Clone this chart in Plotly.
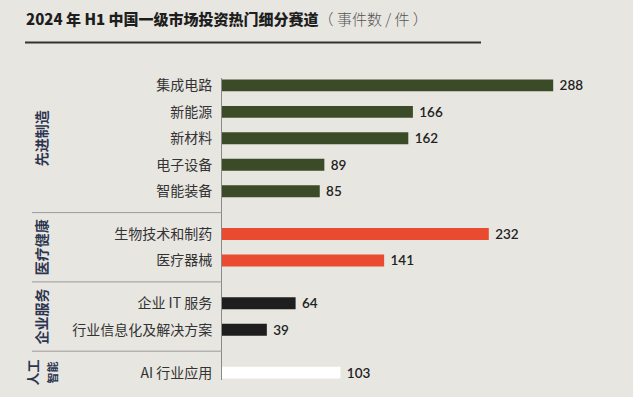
import plotly.graph_objects as go

# ---- data ----
groups = ["先进制造", "医疗健康", "企业服务", "人工智能"]
group_sizes = [5, 2, 2, 1]
categories = ["集成电路", "新能源", "新材料", "电子设备", "智能装备",
              "生物技术和制药", "医疗器械",
              "企业 IT 服务", "行业信息化及解决方案",
              "AI 行业应用"]
values = [288, 166, 162, 89, 85, 232, 141, 64, 39, 103]
group_colors = ["#3b4a27", "#ea4a30", "#1f1e1e", "#ffffff"]

# ---- layout helpers ----
GAP = 1.62
ypos, colors, seps, gcenters = [], [], [], []
cur = 0.0
for gi, n in enumerate(group_sizes):
    start = cur
    for k in range(n):
        ypos.append(cur)
        colors.append(group_colors[gi])
        cur += 1
    end = cur - 1
    gcenters.append((start + end) / 2)
    if gi < len(group_sizes) - 1:
        seps.append(end + GAP / 2)
        cur = end + GAP

W, H = 633, 397
L, R, T, B = 222, 0, 78, 17
pw, ph = W - L - R, H - T - B
XMAX = pw / 1.15

def px2paperx(px):
    return (px - L) / pw

def py2papery(py):
    return (H - B - py) / ph

FONT = "Noto Sans CJK SC"

fig = go.Figure()
fig.add_trace(go.Bar(
    x=values, y=ypos, orientation="h",
    marker=dict(color=colors, line=dict(width=0)),
    width=0.45,
    text=[f" {v}" for v in values], textposition="outside",
    constraintext="none",
    textfont=dict(family="Lato", size=13.5, color="#222222", weight=600),
    cliponaxis=False, hoverinfo="skip",
))

shapes = []
for s in seps:
    shapes.append(dict(type="line", xref="paper", yref="y",
                       x0=px2paperx(32), x1=0, y0=s, y1=s,
                       line=dict(color="#9a9a9a", width=1)))
shapes.append(dict(type="line", xref="paper", yref="paper",
                   x0=px2paperx(25), x1=px2paperx(481),
                   y0=py2papery(42.5), y1=py2papery(42.5),
                   line=dict(color="#333333", width=2)))

annotations = []
for gi, g in enumerate(groups):
    if group_sizes[gi] == 1:
        txt = "<span style='font-size:13px'>" + g[:2] + "</span><br><span style='font-size:11px'>" + g[2:] + "</span>"
    else:
        txt = g
    annotations.append(dict(
        xref="paper", yref="y", x=px2paperx(41), y=gcenters[gi],
        text="<b>" + txt + "</b>", textangle=-90, showarrow=False,
        font=dict(family=FONT, size=14, color="#2c3550"),
        xanchor="center", yanchor="middle",
    ))

fig.update_layout(
    width=W, height=H,
    margin=dict(l=L, r=R, t=T, b=B, autoexpand=False),
    paper_bgcolor="#e8e6e1", plot_bgcolor="#e8e6e1",
    showlegend=False,
    title=dict(
        text="<span style='font-weight:900'>2024 年 H1 中国一级市场投资热门细分赛道</span>"
             "<span style='color:#555555;font-weight:300;font-size:15px'>（ 事件数 / 件 ）</span>",
        xref="container", yref="container", x=26 / W, xanchor="left",
        y=1 - 20 / H, yanchor="middle",
        font=dict(family=FONT, size=15, color="#1e1e1e"),
    ),
    xaxis=dict(range=[0, XMAX], visible=False, fixedrange=True),
    yaxis=dict(
        range=[ypos[-1] + 0.28, -0.28],
        tickvals=ypos, ticktext=categories,
        showline=True, linecolor="#8a8a8a", linewidth=1,
        showgrid=False, zeroline=False, ticks="",
        ticklabelstandoff=6,
        tickfont=dict(family=FONT, size=14, color="#333333"),
    ),
    shapes=shapes, annotations=annotations,
)

fig.write_html("out.html")
